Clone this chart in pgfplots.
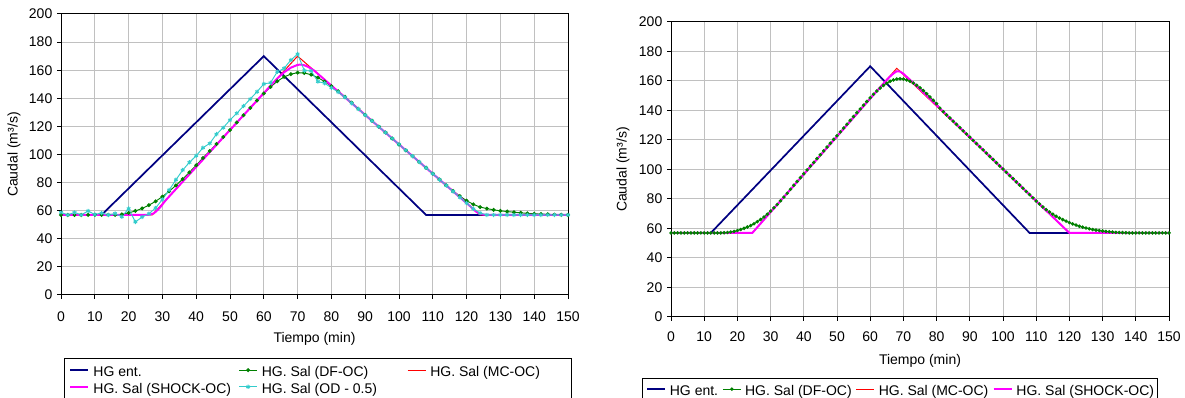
\documentclass[border=0pt]{standalone}
\usepackage{fontspec}
\setmainfont{Liberation Sans}
\usepackage{pgfplots}
\pgfplotsset{compat=1.18}
\definecolor{hgnavy}{RGB}{0,0,128}
\definecolor{dfgreen}{RGB}{0,128,0}
\definecolor{odcyan}{RGB}{51,204,204}
\definecolor{shmag}{RGB}{255,0,255}
\definecolor{mcred}{RGB}{255,0,0}
\definecolor{gridgray}{RGB}{192,192,192}
\newcommand\lstrut{\rule[-3.55pt]{0pt}{14.6pt}}
\newcommand\lfont{\fontsize{10.5}{12}\selectfont}

\pgfplotsset{
  mystyle/.style={
    scale only axis, clip=false,
    xmin=0, xmax=150, ymin=0, ymax=200,
    xtick={0,10,...,150}, ytick={0,20,...,200},
    grid=major, major grid style={gridgray, line width=0.75pt},
    axis line style={black, line width=0.75pt},
    tick align=outside, tick pos=left, major tick length=3pt,
    tick style={black, line width=0.75pt},
    /pgf/number format/assume math mode=true,
    ticklabel style={font=\lfont},
    label style={font=\lfont},
    legend cell align=left,
    legend image code/.code={\draw[mark repeat=2,mark phase=2,##1] plot coordinates {(0pt,0pt) (6.75pt,0pt) (13.5pt,0pt)};},
  }
}

\pgfplotstableread{
t v
0 57
2 57
4 57
6 57
8 57
10 57
12 57
14 57
16 57
18 57.4
20 58.4
22 59.8
24 61.6
26 63.9
28 66.7
30 70.0
32 73.8
34 78.0
36 82.5
38 87.3
40 92.4
42 97.5
44 102.5
46 107.4
48 112.4
50 117.4
52 122.7
54 127.9
56 133.2
58 138.4
60 143.4
62 148.1
64 152.1
66 155.2
68 157.2
70 158.2
72 158.0
74 156.8
76 154.7
78 151.9
80 148.6
82 145.0
84 141.1
86 136.9
88 132.5
90 128.2
92 124.0
94 119.8
96 115.6
98 111.4
100 107.2
102 103.0
104 98.9
106 94.7
108 90.5
110 86.3
112 82.2
114 78.1
116 74.1
118 70.4
120 67.1
122 64.5
124 62.6
126 61.5
128 60.6
130 59.9
132 59.4
134 58.9
136 58.5
138 58.1
140 57.8
142 57.6
144 57.4
146 57.2
148 57.1
150 57.0
}\greenL

\pgfplotstableread{
t v
0 58.8
2 57.0
4 58.8
6 57.0
8 59.8
10 57.3
12 58.3
14 57.0
16 58.0
18 55.7
20 61.5
22 52.0
24 55.5
26 57.8
28 62.0
30 68.0
32 74.7
34 82.0
36 88.9
38 94.4
40 99.1
42 104.8
44 107.9
46 114.5
48 119.1
50 124.5
52 129.3
54 134.5
56 139.5
58 144.7
60 150.2
62 151.1
64 158.9
66 161.3
68 167.2
70 171.5
72 159.7
74 159.5
76 151.9
78 150.7
80 147.5
82 144.5
84 140.7
86 136.5
88 132.3
90 128.1
92 124.0
94 119.8
96 115.6
98 111.4
100 107.2
102 103.0
104 98.8
106 94.7
108 90.5
110 86.3
112 82.1
114 77.9
116 73.7
118 69.5
120 65.4
122 61.3
124 58.3
126 57.0
128 57.0
130 57.0
132 57.0
134 57.0
136 57.0
138 57.0
140 57.0
142 57.0
144 57.0
146 57.0
148 57.0
150 57.0
}\cyanL

\pgfplotstableread{
t v
0 57
1 57
2 57
3 57
4 57
5 57
6 57
7 57
8 57
9 57
10 57
11 57
12 57
13 57
14 57
15 57.0
16 57.1
17 57.3
18 57.6
19 58.0
20 58.6
21 59.3
22 60.1
23 61.0
24 62.0
25 63.2
26 64.6
27 66.1
28 67.8
29 69.7
30 71.8
31 74.0
32 76.3
33 78.8
34 81.3
35 83.9
36 86.6
37 89.3
38 91.9
39 94.5
40 97.1
41 99.7
42 102.3
43 104.8
44 107.4
45 110.0
46 112.6
47 115.2
48 117.8
49 120.4
50 122.9
51 125.5
52 128.1
53 130.7
54 133.3
55 135.9
56 138.5
57 141.0
58 143.6
59 146.1
60 148.6
61 151.0
62 153.2
63 155.2
64 157.0
65 158.5
66 159.8
67 160.7
68 161.3
69 161.5
70 161.3
71 160.7
72 159.8
73 158.6
74 157.1
75 155.4
76 153.5
77 151.4
78 149.2
79 146.9
80 144.6
81 141.6
82 139.2
83 137.0
84 134.9
85 132.7
86 130.6
87 128.4
88 126.2
89 124.1
90 121.9
91 119.7
92 117.6
93 115.4
94 113.3
95 111.1
96 108.9
97 106.8
98 104.6
99 102.4
100 100.3
101 98.1
102 95.9
103 93.8
104 91.6
105 89.5
106 87.3
107 85.1
108 83.0
109 80.8
110 78.6
111 76.6
112 74.6
113 72.8
114 71.2
115 69.7
116 68.3
117 67.1
118 66.0
119 65.0
120 64.0
121 63.1
122 62.3
123 61.5
124 60.9
125 60.3
126 59.8
127 59.3
128 58.9
129 58.6
130 58.3
131 58.0
132 57.8
133 57.6
134 57.4
135 57.3
136 57.2
137 57.1
138 57.0
139 57.0
140 57.0
141 57.0
142 57.0
143 57.0
144 57.0
145 57.0
146 57.0
147 57.0
148 57.0
149 57.0
150 57.0
}\greenR

\begin{document}
\begin{tikzpicture}
\useasboundingbox (0,0) rectangle (888.75pt,-298.5pt);

% ---------------- left chart ----------------
\begin{axis}[mystyle,
  at={(45.75pt,-221.25pt)}, anchor=south west,
  width=380.25pt, height=210.75pt,
  xticklabel style={yshift=-6.25pt},
  xlabel={Tiempo (min)}, ylabel={Caudal (m³/s)},
  xlabel style={at={(axis description cs:0.5,-0.1566)}, anchor=center},
  ylabel style={at={(axis description cs:-0.0927,0.5)}, anchor=center},
  legend columns=3,
  legend style={at={(axis description cs:0.0067,-0.2242)}, anchor=north west,
    draw=black, line width=0.75pt, fill=white, font=\lfont,
    inner xsep=3.2pt, inner ysep=2.45pt, row sep=0pt,
    nodes={inner sep=0pt},
    /tikz/every odd column/.append style={column sep=3.2pt},
    /tikz/every even column/.append style={column sep=0pt}},
]
\addplot[hgnavy, line width=1.3pt] coordinates {(0,57) (12,57) (60,170) (108,57) (150,57)};
\addlegendentry{\makebox[108.9pt][l]{\lstrut HG ent.}}
\addplot[dfgreen, line width=0.7pt, mark=*, mark size=1.1pt, mark options={fill=dfgreen, draw=dfgreen}] table[x=t,y=v] {\greenL};
\addlegendentry{\makebox[108.9pt][l]{\lstrut HG. Sal (DF-OC)}}
\addplot[mcred, line width=0.75pt] coordinates {(0,57) (27,57) (70,170) (124,57) (150,57)};
\addlegendentry{\makebox[102.5pt][l]{\lstrut HG. Sal (MC-OC)}}
\addplot[shmag, line width=1.5pt] coordinates {(0,57) (25.5,57) (26.5,57.3) (27.5,58.2) (28.5,60.3) (29.5,62.9) (31,67.5) (64,154.2) (66,158.5) (68,161.8) (70,163.8) (71,164) (72,163.5) (73,162.5) (74,161.2) (75,159.5) (121,63.3) (122,61.0) (123,59.0) (124,57.8) (125,57.2) (126,57) (150,57)};
\addlegendentry{\makebox[108.9pt][l]{\lstrut HG. Sal (SHOCK-OC)}}
\addplot[odcyan, line width=0.7pt, mark=asterisk, mark size=1.6pt, mark options={draw=odcyan}] table[x=t,y=v] {\cyanL};
\addlegendentry{\makebox[108.9pt][l]{\lstrut HG. Sal (OD - 0.5)}}
\end{axis}

% ---------------- right chart ----------------
\begin{axis}[mystyle,
  at={(503.25pt,-237.75pt)}, anchor=south west,
  width=373.5pt, height=221.25pt,
  xticklabel style={yshift=-4.75pt},
  xlabel={Tiempo (min)}, ylabel={Caudal (m³/s)},
  xlabel style={at={(axis description cs:0.5,-0.149)}, anchor=center},
  ylabel style={at={(axis description cs:-0.0964,0.5)}, anchor=center},
  legend columns=4,
  legend style={at={(axis description cs:-0.058,-0.2068)}, anchor=north west,
    draw=black, line width=0.75pt, fill=white, font=\lfont,
    inner xsep=2.8pt, inner ysep=1.7pt, row sep=0pt,
    nodes={inner sep=0pt},
    /tikz/every odd column/.append style={column sep=2.85pt},
    /tikz/every even column/.append style={column sep=3.2pt}},
]
\addplot[hgnavy, line width=1.3pt] coordinates {(0,57) (12,57) (60,170) (108,57) (150,57)};
\addlegendentry{\lstrut HG ent.}
\addplot[dfgreen, line width=0.7pt, mark=*, mark size=0.95pt, mark options={fill=dfgreen, draw=dfgreen}] table[x=t,y=v] {\greenR};
\addlegendentry{\lstrut HG. Sal (DF-OC)}
\addplot[mcred, line width=0.75pt] coordinates {(0,57) (24.5,57) (68,168.6) (120,57) (150,57)};
\addlegendentry{\lstrut HG. Sal (MC-OC)}
\addplot[shmag, line width=1.5pt] coordinates {(0,57) (24.5,57) (64,158.3) (65,160.8) (66,163.1) (67,165.1) (68,166.6) (69,166.4) (70,164.9) (71,162.8) (72,160.8) (73,158.7) (120,57) (150,57)};
\addlegendentry{\lstrut HG. Sal (SHOCK-OC)}
\end{axis}
\end{tikzpicture}
\end{document}
